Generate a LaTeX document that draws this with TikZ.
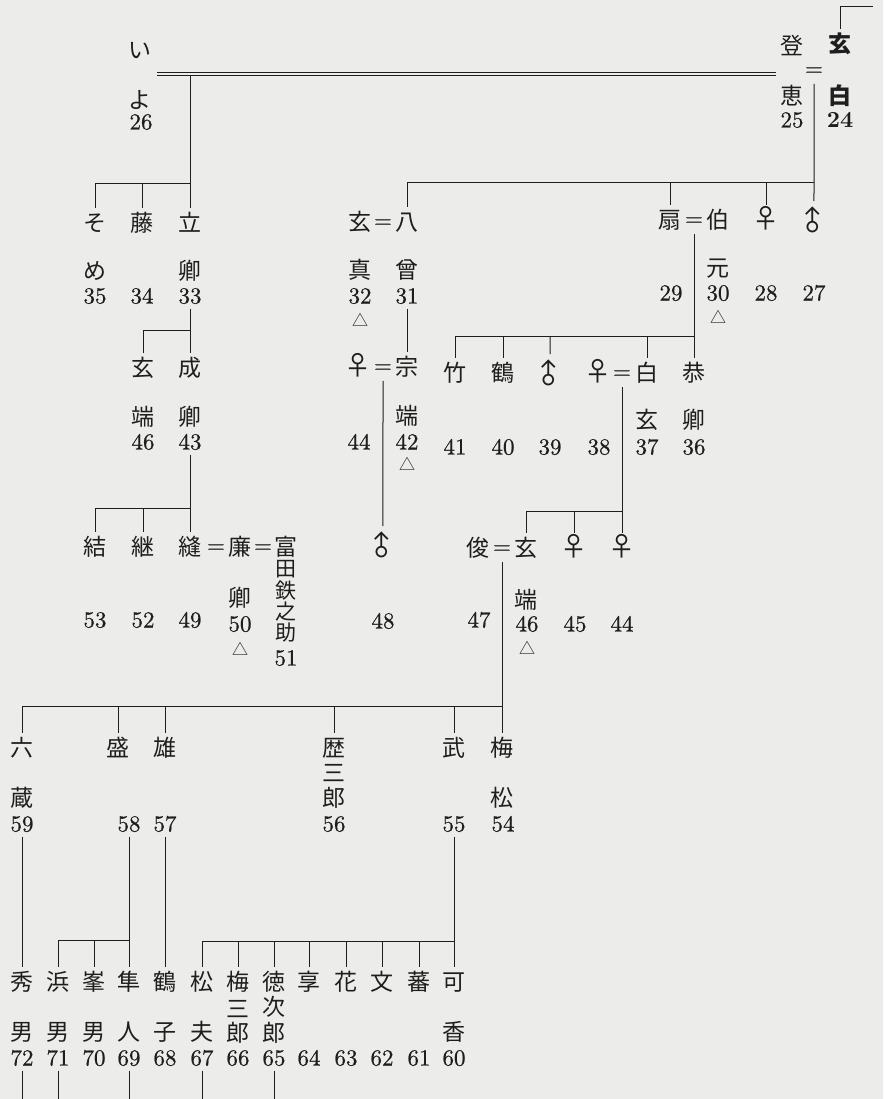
\documentclass[tikz,border=0pt]{standalone}
\usepackage{fontspec}
\newfontfamily\jp{Noto Sans CJK JP}
\newfontfamily\numf{lmroman10-regular}[Extension=.otf, FakeBold=0.6]
\newfontfamily\numb{lmroman10-bold}[Extension=.otf]
\definecolor{paper}{RGB}{236,236,234}
\definecolor{ink}{RGB}{30,30,30}
\begin{document}
\begin{tikzpicture}[x=1pt, y=-1pt,
    nm/.style={font=\jp\fontsize{23}{23}\selectfont, text=ink, text height=19pt, text depth=2pt, inner sep=4pt},
    sym/.style={nm, font=\jp\fontsize{27}{27}\selectfont},
    male/.style={sym, rotate=45},
    num/.style={font=\numf\fontsize{23}{23}\selectfont, text=ink, text height=15pt, text depth=0pt, inner sep=5pt},
    eqs/.style={font=\numf\fontsize{23}{23}\selectfont, text=ink, text height=8pt, text depth=0pt, inner xsep=1pt, inner ysep=8pt, yshift=-1.75pt},
    tri/.style={font=\jp\fontsize{16}{16}\selectfont, text=ink, inner sep=1pt},
    ln/.style={draw=ink, line width=1pt}]
  \path[use as bounding box, fill=paper] (0,0) rectangle (883,1099);

  \node[nm] (p26a) at (140,50) {い};
  \node[nm] (p26b) at (140,100) {よ};
  \node[num] (n26) at (141,122) {26};
  \node[nm] (p25a) at (792,46) {登};
  \node[nm] (p25b) at (792,96) {恵};
  \node[num] (n25) at (792,120) {25};
  \node[eqs] (e24) at (814,70) {=};
  \node[nm] (p24a) at (840,44) {\bfseries 玄};
  \node[nm] (p24b) at (840,96) {\bfseries 白};
  \node[num, font=\numb\fontsize{23}{23}\selectfont] (n24) at (840,120) {24};
  \coordinate (up24) at (873,7);
  \coordinate (wedL) at (157,74);
  \coordinate (wedR) at (776,74);
  \coordinate (wedB) at (0,76);

  \node[nm] (p35a) at (95,223) {そ};
  \node[nm] (p35b) at (95,271) {め};
  \node[num] (n35) at (95,296) {35};
  \node[nm] (p34) at (142,223) {藤};
  \node[num] (n34) at (142,296) {34};
  \node[nm] (p33a) at (190,223) {立};
  \node[nm] (p33b) at (190,271) {卿};
  \node[num] (n33) at (190,296) {33};

  \node[nm] (p32a) at (360,222) {玄};
  \node[eqs] (e32) at (383,222) {=};
  \node[nm] (p31a) at (407,222) {八};
  \node[nm] (p32b) at (360,270) {真};
  \node[nm] (p31b) at (407,270) {曾};
  \node[num] (n32) at (360,296) {32};
  \node[num] (n31) at (407,296) {31};
  \node[tri] (t32) at (360,320) {△};

  \node[nm] (p29) at (670,220) {扇};
  \node[eqs] (e29) at (694,220) {=};
  \node[nm] (p30a) at (718,220) {伯};
  \node[nm] (p30b) at (718,268) {元};
  \node[num] (n29) at (671,293) {29};
  \node[num] (n30) at (718,293) {30};
  \node[tri] (t30) at (718,317) {△};
  \node[sym] (p28) at (766,220) {♀};
  \node[num] (n28) at (766,293) {28};
  \node[male] (p27) at (814,222) {♂};
  \node[num] (n27) at (814,293) {27};

  \node[nm] (p46a) at (143,368) {玄};
  \node[nm] (p46b) at (143,417) {端};
  \node[num] (n46a) at (143,442) {46};
  \node[nm] (p43a) at (190,368) {成};
  \node[nm] (p43b) at (190,417) {卿};
  \node[num] (n43) at (190,442) {43};

  \node[sym] (p44a) at (358,367) {♀};
  \node[eqs] (e42) at (383,367) {=};
  \node[nm] (p42a) at (407,367) {宗};
  \node[nm] (p42b) at (407,416) {端};
  \node[num] (n44a) at (359,442) {44};
  \node[num] (n42) at (407,442) {42};
  \node[tri] (t42) at (407,464) {△};

  \node[nm] (p41) at (455,373) {竹};
  \node[nm] (p40) at (503,373) {鶴};
  \node[male] (p39) at (550,375) {♂};
  \node[sym] (p38) at (598,373) {♀};
  \node[eqs] (e38) at (622,373) {=};
  \node[nm] (p37a) at (647,373) {白};
  \node[nm] (p36a) at (694,373) {恭};
  \node[nm] (p37b) at (647,420) {玄};
  \node[nm] (p36b) at (694,420) {卿};
  \foreach \x/\k in {455/41, 503/40, 550/39, 599/38, 647/37, 694/36}
    \node[num] (n\k) at (\x,447) {\k};

  \node[nm] (p53) at (95,547) {結};
  \node[nm] (p52) at (143,547) {継};
  \node[nm] (p49) at (190,547) {縫};
  \node[eqs] (e49) at (216,547) {=};
  \node[nm] (p50a) at (240,547) {廉};
  \node[eqs] (e50) at (263,547) {=};
  \node[nm] (p51a) at (286,547) {富};
  \foreach \c [count=\i] in {田,鉄,之,助}
    \node[nm, font=\jp\fontsize{21}{21}\selectfont] (p51\i) at (286,547+21.3*\i) {\c};
  \node[num] (n51) at (286,658) {51};
  \node[nm] (p50b) at (240,598) {卿};
  \node[num] (n50) at (240,624) {50};
  \node[tri] (t50) at (240,649) {△};
  \foreach \x/\k in {95/53, 143/52, 190/49}
    \node[num] (n\k) at (\x,620) {\k};
  \node[male] (p48) at (383,547) {♂};
  \node[num] (n48) at (383,621) {48};

  \node[nm] (p47) at (478,548) {俊};
  \node[eqs] (e47) at (502,548) {=};
  \node[nm] (p46c) at (526,548) {玄};
  \node[sym] (p45) at (574,548) {♀};
  \node[sym] (p44b) at (622,548) {♀};
  \node[nm] (p46d) at (526,600) {端};
  \node[num] (n47) at (479,620) {47};
  \node[num] (n46c) at (527,624) {46};
  \node[tri] (t46) at (527,648) {△};
  \node[num] (n45) at (575,624) {45};
  \node[num] (n44b) at (622,624) {44};

  \node[nm] (p59a) at (22,748) {六};
  \node[nm] (p59b) at (22,798) {蔵};
  \node[nm] (p58) at (118,748) {盛};
  \node[nm] (p57) at (165,748) {雄};
  \node[nm] (p56a) at (334,748) {歴};
  \node[nm] (p56b) at (334,773) {三};
  \node[nm] (p56c) at (334,798) {郎};
  \node[nm] (p55) at (454,748) {武};
  \node[nm] (p54a) at (502,748) {梅};
  \node[nm] (p54b) at (502,798) {松};
  \foreach \x/\k in {22/59, 129/58, 165/57, 334/56, 454/55, 503/54}
    \node[num] (n\k) at (\x,824) {\k};

  \foreach \x/\c/\k in {22/秀/72, 58/浜/71, 94/峯/70, 129/隼/69, 165/鶴/68, 202/松/67, 238/梅/66, 274/徳/65, 309/享/64, 346/花/63, 382/文/62, 419/蕃/61, 454/可/60}{
    \node[nm] (p\k) at (\x,982) {\c};
    \node[num] (n\k) at (\x,1058) {\k};
  }
  \foreach \x/\c/\k in {22/男/72, 58/男/71, 94/男/70, 129/人/69, 165/子/68, 202/夫/67, 454/香/60}
    \node[nm] (q\k) at (\x,1032) {\c};
  \node[nm] (q66a) at (238,1009) {三};
  \node[nm] (q66b) at (238,1033) {郎};
  \node[nm] (q65a) at (274,1007) {次};
  \node[nm] (q65b) at (274,1033) {郎};
  \foreach \x/\k in {22/72, 58/71, 129/69, 202/67, 274/65}
    \coordinate (d\k) at (\x,1099);

  \draw[ln, double=paper, double distance=2.6pt, line width=0.8pt] (wedL) -- (wedR);
  \draw[ln] (up24) -| (p24a);
  \draw[ln] (e24) -- (p27);
  \draw[ln] (p33a |- wedB) -- (p33a);

  \coordinate (b1) at (0,183);
  \draw[ln] (p31a |- b1) -- (p27 |- b1);
  \foreach \k in {p31a,p29,p28} \draw[ln] (\k |- b1) -- (\k);

  \coordinate (b2) at (0,184);
  \draw[ln] (p35a |- b2) -- (p33a |- b2);
  \foreach \k in {p35a,p34} \draw[ln] (\k |- b2) -- (\k);

  \coordinate (b3) at (0,330);
  \draw[ln] (n33) -- (p43a);
  \draw[ln] (p46a |- b3) -- (p43a |- b3);
  \draw[ln] (p46a |- b3) -- (p46a);

  \draw[ln] (n31) -- (p42a);
  \draw[ln] (e42) -- (p48);

  \coordinate (b4) at (0,336);
  \draw[ln] (e29) -- (p36a);
  \draw[ln] (p41 |- b4) -- (p36a |- b4);
  \foreach \k in {p41,p40,p39,p37a} \draw[ln] (\k |- b4) -- (\k);

  \coordinate (b5) at (0,508);
  \draw[ln] (n43) -- (p49);
  \draw[ln] (p53 |- b5) -- (p49 |- b5);
  \foreach \k in {p53,p52} \draw[ln] (\k |- b5) -- (\k);

  \coordinate (b6) at (0,511);
  \draw[ln] (e38) -- (p44b);
  \draw[ln] (p46c |- b6) -- (p44b |- b6);
  \foreach \k in {p46c,p45} \draw[ln] (\k |- b6) -- (\k);

  \coordinate (b7) at (0,706);
  \draw[ln] (e47) -- (p54a);
  \draw[ln] (p59a |- b7) -- (p54a |- b7);
  \foreach \k in {p59a,p58,p57,p56a,p55} \draw[ln] (\k |- b7) -- (\k);

  \draw[ln] (n59) -- (p72);
  \draw[ln] (n57) -- (p68);
  \coordinate (b8) at (0,940);
  \draw[ln] (n58) -- (p69);
  \draw[ln] (p71 |- b8) -- (p69 |- b8);
  \foreach \k in {p71,p70} \draw[ln] (\k |- b8) -- (\k);

  \coordinate (b9) at (0,941);
  \draw[ln] (n55) -- (p60);
  \draw[ln] (p67 |- b9) -- (p60 |- b9);
  \foreach \k in {p67,p66,p65,p64,p63,p62,p61} \draw[ln] (\k |- b9) -- (\k);

  \foreach \k in {72,71,69,67,65} \draw[ln] (n\k) -- (d\k);
\end{tikzpicture}
\end{document}
